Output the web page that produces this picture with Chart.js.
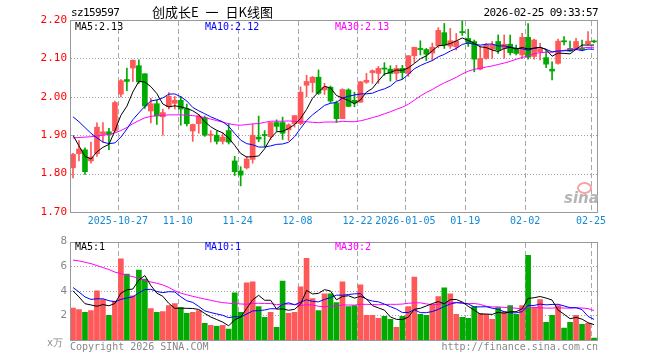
<!DOCTYPE html>
<html>
<head>
<meta charset="utf-8">
<script src="https://cdn.jsdelivr.net/npm/chart.js@4.4.1/dist/chart.umd.min.js"></script>
<style>
  html, body { margin: 0; padding: 0; background: #fff; }
  #page { position: relative; width: 660px; height: 360px; overflow: hidden; font-family: "DejaVu Sans Mono", monospace; }
  .box { position: absolute; left: 0; width: 660px; }
  .txt { position: absolute; white-space: nowrap; font-size: 10px; line-height: 12px; }
</style>
</head>
<body>
<div id="page">
  <div class="box" style="top:0;height:232px"><canvas id="kline"></canvas></div>
  <div class="box" style="top:232px;height:128px"><canvas id="vol"></canvas></div>

  <div class="txt" style="left:71px;top:6px;font-size:11px;line-height:13px;letter-spacing:-0.6px;color:#000">sz159597</div>
  <div class="txt" style="left:152px;top:4px;font-family:'Noto Sans CJK SC',sans-serif;font-size:13px;line-height:16px;word-spacing:4px;color:#000">创成长E 一 日K线图</div>
  <div class="txt" style="right:62px;top:6px;font-size:11px;line-height:13px;letter-spacing:-0.6px;color:#000">2026-02-25 09:33:57</div>

  <div class="txt" id="kMa5" style="left:75px;top:21px;color:#000"></div>
  <div class="txt" id="kMa10" style="left:205px;top:21px;color:#0000ff"></div>
  <div class="txt" id="kMa30" style="left:335px;top:21px;color:#ff00ff"></div>

  <div class="txt" id="vMa5" style="left:75px;top:241px;color:#000"></div>
  <div class="txt" id="vMa10" style="left:205px;top:241px;color:#0000ff"></div>
  <div class="txt" id="vMa30" style="left:335px;top:241px;color:#ff00ff"></div>

  <div class="txt" style="left:47px;top:337px;color:#888">x万</div>
  <div class="txt" style="left:70px;top:341px;color:#888">Copyright 2026 SINA.COM</div>
  <div class="txt" style="right:62px;top:341px;color:#888">http://finance.sina.com.cn</div>

  <div style="position:absolute;left:577px;top:182px;width:11px;height:8px;border:2px solid #f5a3a3;border-radius:50%"></div>
  <div class="txt" style="left:564px;top:190px;font-family:'DejaVu Sans',sans-serif;font-size:15px;line-height:16px;font-style:italic;font-weight:bold;color:#b5b5b5">sina</div>
</div>

<script>
// trading days
const dates = [
  '2025-10-15','2025-10-16','2025-10-17','2025-10-20','2025-10-21','2025-10-22','2025-10-23','2025-10-24','2025-10-27','2025-10-28',
  '2025-10-29','2025-10-30','2025-10-31','2025-11-03','2025-11-04','2025-11-05','2025-11-06','2025-11-07','2025-11-10','2025-11-11',
  '2025-11-12','2025-11-13','2025-11-14','2025-11-17','2025-11-18','2025-11-19','2025-11-20','2025-11-21','2025-11-24','2025-11-25',
  '2025-11-26','2025-11-27','2025-11-28','2025-12-01','2025-12-02','2025-12-03','2025-12-04','2025-12-05','2025-12-08','2025-12-09',
  '2025-12-10','2025-12-11','2025-12-12','2025-12-15','2025-12-16','2025-12-17','2025-12-18','2025-12-19','2025-12-22','2025-12-23',
  '2025-12-24','2025-12-25','2025-12-26','2025-12-29','2025-12-30','2025-12-31','2026-01-05','2026-01-06','2026-01-07','2026-01-08',
  '2026-01-09','2026-01-12','2026-01-13','2026-01-14','2026-01-15','2026-01-16','2026-01-19','2026-01-20','2026-01-21','2026-01-22',
  '2026-01-23','2026-01-26','2026-01-27','2026-01-28','2026-01-29','2026-01-30','2026-02-02','2026-02-03','2026-02-04','2026-02-05',
  '2026-02-06','2026-02-09','2026-02-10','2026-02-11','2026-02-12','2026-02-13','2026-02-24','2026-02-25'
];

const tickDates = ['2025-10-27','2025-11-10','2025-11-24','2025-12-08','2025-12-22','2026-01-05','2026-01-19','2026-02-02','2026-02-25'];
const tickLabels = ['2025-10-27','11-10','11-24','12-08','12-22','2026-01-05','01-19','02-02','02-25'];

const opens = [
  1.815,1.852,1.862,1.833,1.852,1.902,1.909,1.911,2.007,2.045,
  2.075,2.081,2.060,1.963,1.982,1.948,1.974,1.983,1.991,1.969,
  1.911,1.930,1.946,1.900,1.900,1.884,1.912,1.833,1.807,1.815,
  1.837,1.895,1.902,1.896,1.933,1.933,1.914,1.930,1.930,2.030,
  2.037,2.051,2.018,2.025,1.984,1.943,2.018,1.991,1.986,2.038,
  2.063,2.061,2.075,2.072,2.061,2.074,2.061,2.107,2.126,2.123,
  2.114,2.133,2.167,2.132,2.130,2.170,2.152,2.144,2.072,2.100,
  2.124,2.144,2.126,2.137,2.126,2.109,2.155,2.105,2.117,2.102,
  2.072,2.087,2.146,2.126,2.126,2.126,2.138,2.145
];
const highs = [
  1.853,1.886,1.867,1.882,1.932,1.933,1.918,1.989,2.045,2.075,
  2.096,2.096,2.060,1.996,1.991,1.968,2.011,2.001,2.001,1.981,
  1.929,1.954,1.950,1.912,1.911,1.906,1.930,1.845,1.818,1.845,
  1.929,1.950,1.912,1.933,1.940,1.947,1.930,1.951,2.026,2.056,
  2.053,2.070,2.035,2.028,1.989,2.021,2.021,2.012,2.040,2.061,
  2.070,2.079,2.089,2.081,2.082,2.082,2.107,2.129,2.146,2.126,
  2.140,2.180,2.191,2.178,2.165,2.198,2.176,2.148,2.131,2.139,
  2.144,2.161,2.161,2.161,2.135,2.165,2.191,2.150,2.139,2.122,
  2.091,2.150,2.157,2.145,2.152,2.148,2.170,2.148
];
const lows = [
  1.789,1.833,1.798,1.827,1.845,1.882,1.862,1.909,2.000,2.016,
  2.040,2.035,1.970,1.932,1.928,1.900,1.968,1.968,1.926,1.924,
  1.884,1.905,1.897,1.882,1.877,1.877,1.877,1.795,1.768,1.812,
  1.827,1.883,1.870,1.889,1.910,1.889,1.886,1.921,1.927,2.000,
  2.012,2.006,2.006,1.984,1.933,1.943,1.974,1.974,1.986,2.035,
  2.035,2.035,2.056,2.041,2.044,2.046,2.053,2.089,2.109,2.094,
  2.094,2.128,2.126,2.126,2.122,2.160,2.131,2.065,2.070,2.098,
  2.100,2.113,2.100,2.109,2.109,2.100,2.098,2.098,2.096,2.076,
  2.044,2.085,2.135,2.118,2.122,2.122,2.135,2.141
];
const closes = [
  1.850,1.864,1.805,1.843,1.921,1.909,1.902,1.985,2.042,2.040,
  2.095,2.039,1.976,1.982,1.950,1.959,2.001,1.991,1.968,1.930,
  1.928,1.950,1.900,1.902,1.884,1.895,1.882,1.805,1.796,1.838,
  1.900,1.890,1.899,1.933,1.923,1.905,1.927,1.951,2.012,2.040,
  2.051,2.009,2.025,1.989,1.943,2.019,1.975,1.984,2.039,2.043,
  2.068,2.074,2.072,2.061,2.074,2.063,2.107,2.129,2.123,2.111,
  2.129,2.173,2.135,2.146,2.145,2.167,2.141,2.098,2.100,2.135,
  2.135,2.122,2.137,2.115,2.113,2.155,2.103,2.148,2.125,2.085,
  2.067,2.145,2.143,2.119,2.144,2.123,2.145,2.143
];
const volumes = [
  2.59,2.48,2.24,2.40,4.00,3.28,2.00,3.17,6.59,5.36,
  3.60,5.68,4.96,2.56,2.24,2.32,2.80,2.96,2.64,2.16,
  2.24,2.40,1.36,1.20,1.12,1.20,0.88,3.84,2.24,4.64,
  4.72,2.72,1.84,2.24,1.04,4.80,2.16,2.24,4.32,6.64,
  3.36,2.40,3.76,3.76,3.04,4.72,2.72,2.80,4.48,2.00,
  2.00,1.76,1.92,1.68,1.04,1.92,2.72,5.12,2.08,2.00,
  2.88,3.52,4.24,3.76,2.08,1.84,1.76,2.72,2.16,2.08,
  1.68,2.64,2.32,2.80,2.08,2.80,6.88,2.64,3.28,1.44,
  2.00,2.80,0.96,1.44,2.00,1.28,1.36,0.16
];

// moving-average values for bars whose window starts before the visible range
const ma5Head = [1.900,1.872,1.845,1.838];
const ma10Head = [1.948,1.935,1.920,1.905,1.893,1.882,1.878,1.880,1.895];
const ma30Head = [1.893,1.894,1.895,1.896,1.898,1.900,1.902,1.906,1.912,1.920,
                  1.930,1.938,1.945,1.949,1.951,1.952,1.953,1.953,1.953,1.952,
                  1.951,1.949,1.946,1.942,1.938,1.934,1.930,1.927,1.926];
const vma5Head = [4.0,3.5,2.95,2.85];
const vma10Head = [4.27,3.9,3.5,3.3,3.35,3.35,3.2,3.1,3.3];
const vma30Head = [6.5,6.43,6.32,6.21,6.05,5.89,5.73,5.52,5.39,5.25,
                   5.15,5.01,4.85,4.72,4.61,4.48,4.27,4.0,3.81,3.68,
                   3.55,3.44,3.33,3.23,3.12,3.04,2.99,2.96,2.93];

const UP = '#ff5858';
const DOWN = '#00aa00';
const MONO = 'DejaVu Sans Mono';

function movingAvg(src, n, head) {
  return src.map((_, i) => {
    if (i < n - 1) return head[i];
    let s = 0;
    for (let j = i - n + 1; j <= i; j++) s += src[j];
    return s / n;
  });
}

const ma5 = movingAvg(closes, 5, ma5Head);
const ma10 = movingAvg(closes, 10, ma10Head);
const ma30 = movingAvg(closes, 30, ma30Head);
const vma5 = movingAvg(volumes, 5, vma5Head);
const vma10 = movingAvg(volumes, 10, vma10Head);
const vma30 = movingAvg(volumes, 30, vma30Head);

const colors = closes.map((c, i) => c >= opens[i] ? UP : DOWN);
const tickIdx = tickDates.map(d => dates.indexOf(d));

const last = a => a[a.length - 1];
document.getElementById('kMa5').textContent = 'MA5:' + last(ma5).toFixed(2);
document.getElementById('kMa10').textContent = 'MA10:' + last(ma10).toFixed(2);
document.getElementById('kMa30').textContent = 'MA30:' + last(ma30).toFixed(2);
document.getElementById('vMa5').textContent = 'MA5:' + Math.floor(last(vma5));
document.getElementById('vMa10').textContent = 'MA10:' + Math.floor(last(vma10));
document.getElementById('vMa30').textContent = 'MA30:' + Math.floor(last(vma30));

// dotted value lines and dashed date lines go behind the marks, then the grey frame on top
const panelPlugin = {
  id: 'panel',
  afterDatasetsDraw(chart) {
    const ctx = chart.ctx;
    const a = chart.chartArea;
    const x = chart.scales.x, y = chart.scales.y;
    const l = Math.round(a.left), r = Math.round(a.right);
    const t = Math.round(a.top), b = Math.round(a.bottom);
    ctx.save();
    ctx.globalCompositeOperation = 'destination-over';
    ctx.fillStyle = '#a0a0a0';
    y.ticks.forEach(tk => {
      if (tk.value <= y.min + 1e-6 || tk.value >= y.max - 1e-6) return;
      const py = Math.round(y.getPixelForValue(tk.value));
      for (let px = l + 1; px < r; px += 3) ctx.fillRect(px, py, 1, 1);
    });
    ctx.fillStyle = '#a8a8a8';
    const half = (x.getPixelForValue(1) - x.getPixelForValue(0)) / 2;
    tickIdx.forEach(i => {
      const px = Math.round(x.getPixelForValue(i) - half);
      for (let py = t + 1; py < b; py += 8) ctx.fillRect(px, py, 1, Math.min(5, b - py));
    });
    ctx.globalCompositeOperation = 'source-over';
    ctx.strokeStyle = '#999';
    ctx.lineWidth = 1;
    ctx.strokeRect(l + 0.5, t + 0.5, r - l, b - t);
    ctx.restore();
  }
};

function maLine(data, color) {
  return {
    type: 'line', data: data, borderColor: color, borderWidth: 1,
    pointRadius: 0, tension: 0, fill: false, order: 0
  };
}

function xScale(showTicks) {
  return {
    type: 'category',
    offset: true,
    grid: { display: false, drawTicks: false },
    border: { display: false },
    ticks: {
      display: showTicks,
      autoSkip: false,
      maxRotation: 0,
      padding: 3,
      labelOffset: -3,
      color: '#1589d6',
      font: { family: MONO, size: 10 },
      callback: (v, i) => {
        const k = tickDates.indexOf(dates[i]);
        return k >= 0 ? tickLabels[k] : '';
      }
    },
    afterFit: s => { s.height = 20; }
  };
}

function yScale(min, max, step, color, fmt) {
  return {
    min: min, max: max,
    grid: { display: false, drawTicks: false },
    border: { display: false },
    ticks: {
      stepSize: step, padding: 3, color: color,
      font: { family: MONO, size: 11 },
      callback: fmt
    },
    afterFit: s => { s.width = 70; }
  };
}

const common = {
  responsive: true,
  maintainAspectRatio: false,
  animation: false,
  devicePixelRatio: 1,
  events: [],
  plugins: { legend: { display: false }, tooltip: { enabled: false } }
};

new Chart(document.getElementById('kline').getContext('2d'), {
  type: 'bar',
  data: {
    labels: dates,
    datasets: [
      maLine(ma5, '#000000'),
      maLine(ma10, '#0000ff'),
      maLine(ma30, '#ff00ff'),
      {
        data: opens.map((o, i) => [o, closes[i]]),
        backgroundColor: colors,
        barThickness: 5,
        minBarLength: 1,
        grouped: false,
        order: 1
      },
      {
        data: lows.map((l, i) => [l, highs[i]]),
        backgroundColor: colors,
        barThickness: 1,
        grouped: false,
        order: 2
      }
    ]
  },
  options: Object.assign({}, common, {
    layout: { padding: { top: 20, right: 63, left: 0, bottom: 0 } },
    scales: {
      x: xScale(true),
      y: yScale(1.7, 2.2, 0.1, '#ff0000', v => v.toFixed(2))
    }
  }),
  plugins: [panelPlugin]
});

new Chart(document.getElementById('vol').getContext('2d'), {
  type: 'bar',
  data: {
    labels: dates,
    datasets: [
      maLine(vma5, '#000000'),
      maLine(vma10, '#0000ff'),
      maLine(vma30, '#ff00ff'),
      {
        data: volumes,
        backgroundColor: colors,
        barThickness: 5,
        grouped: false,
        order: 1
      }
    ]
  },
  options: Object.assign({}, common, {
    layout: { padding: { top: 8, right: 63, left: 0, bottom: 0 } },
    scales: {
      x: xScale(false),
      y: yScale(0, 8, 2, '#888', v => v === 0 ? '' : String(v))
    }
  }),
  plugins: [panelPlugin]
});
</script>
</body>
</html>
